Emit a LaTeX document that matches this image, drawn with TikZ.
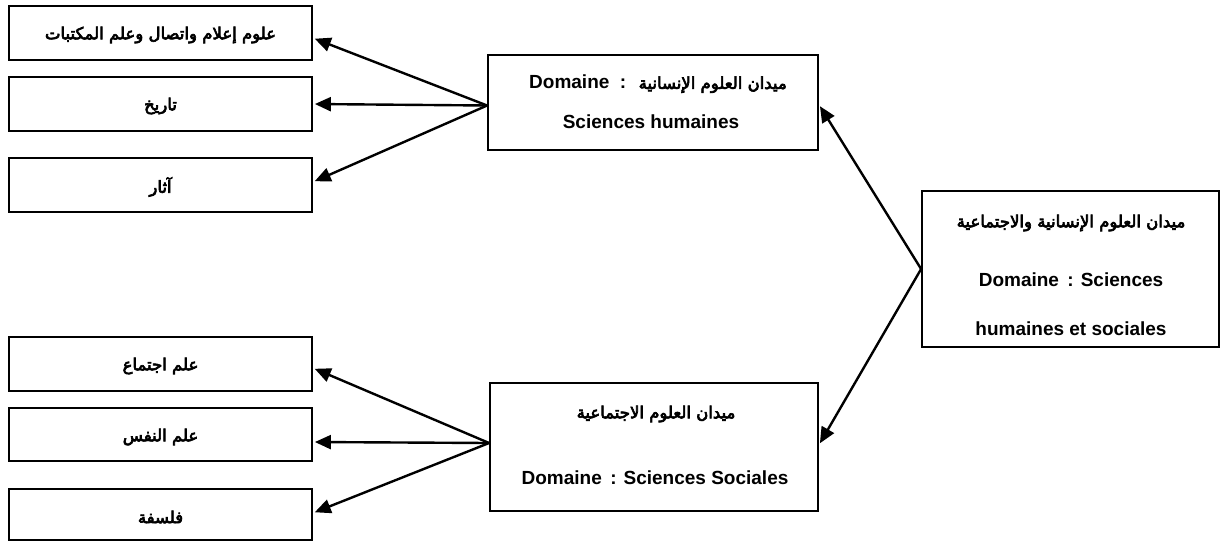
\documentclass[tikz,border=0pt]{standalone}
\usepackage{fontspec}
\setmainfont{Liberation Sans}
\newfontfamily\arabicfont[Script=Arabic,FakeBold=4]{DejaVu Sans}
\TeXXeTstate=1
\usetikzlibrary{arrows.meta}
\newcommand{\ar}[1]{{\arabicfont\mdseries\fontsize{16.5}{19}\selectfont\beginR #1\endR}}
\begin{document}
\begin{tikzpicture}[x=1pt,y=-1pt,
  box/.style={draw=black,line width=1.8pt,rectangle,inner sep=0pt},
  txt/.style={inner sep=0pt,font=\fontsize{19}{23}\selectfont\bfseries},
  atxt/.style={inner sep=0pt},
  arr/.style={line width=2.4pt,-{Triangle[length=16pt,width=14pt]},shorten >=2pt}]
\useasboundingbox (0,0) rectangle (1223,542);
% left boxes
\node[box,minimum width=303pt,minimum height=54pt] (L1) at (160.5,33) {};
\node[box,minimum width=303pt,minimum height=54pt] (L2) at (160.5,104) {};
\node[box,minimum width=303pt,minimum height=54pt] (L3) at (160.5,185) {};
\node[box,minimum width=303pt,minimum height=54pt] (L4) at (160.5,364) {};
\node[box,minimum width=303pt,minimum height=53pt] (L5) at (160.5,434.5) {};
\node[box,minimum width=303pt,minimum height=51pt] (L6) at (160.5,514.5) {};
\node[atxt] (t1) at (160.5,35) {\ar{علوم إعلام واتصال وعلم المكتبات}};
\node[atxt] (t2) at (160.5,106) {\ar{تاريخ}};
\node[atxt] (t3) at (160.5,187) {\ar{آثار}};
\node[atxt] (t4) at (160.5,366) {\ar{علم اجتماع}};
\node[atxt] (t5) at (160.5,437) {\ar{علم النفس}};
\node[atxt] (t6) at (160.5,517) {\ar{فلسفة}};
% middle boxes
\node[box,minimum width=330pt,minimum height=95pt] (M1) at (653,102.5) {};
\node[txt] (m1a) at (658,84) {Domaine \ : \ \ar{ميدان العلوم الإنسانية}};
\node[txt] (m1b) at (651,122) {Sciences humaines};
\node[box,minimum width=328pt,minimum height=128pt] (M2) at (654,447) {};
\node[atxt] (m2a) at (656,414) {\ar{ميدان العلوم الاجتماعية}};
\node[txt] (m2b) at (655,478) {Domaine \,: Sciences Sociales};
% right box
\node[box,minimum width=297pt,minimum height=156pt] (R) at (1070.5,269) {};
\node[atxt] (ra) at (1071,223) {\ar{ميدان العلوم الإنسانية والاجتماعية}};
\node[txt] (rb) at (1071,280) {Domaine \,: Sciences};
\node[txt] (rc) at (1071,329) {humaines et sociales};
% connectors
\draw[arr] (R.west) -- ([yshift=-2pt]M1.east);
\draw[arr] (R.west) -- ([yshift=2pt]M2.east);
\draw[arr] ([yshift=-3pt]M1.west) -- ([yshift=-5pt]L1.east);
\draw[arr] ([yshift=-3pt]M1.west) -- (L2.east);
\draw[arr] ([yshift=-3pt]M1.west) -- ([yshift=3pt]L3.east);
\draw[arr] ([yshift=4pt]M2.west) -- ([yshift=-4pt]L4.east);
\draw[arr] ([yshift=4pt]M2.west) -- ([yshift=-7.5pt]L5.east);
\draw[arr] ([yshift=4pt]M2.west) -- ([yshift=1.5pt]L6.east);
\end{tikzpicture}
\end{document}
